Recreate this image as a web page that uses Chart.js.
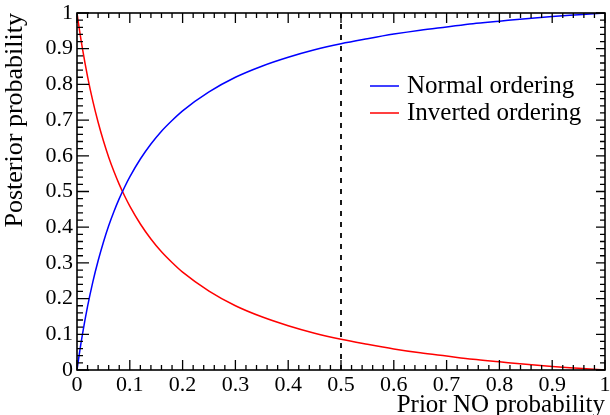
<!DOCTYPE html>
<html lang="en">
<head>
  <meta charset="UTF-8">
  <title>Posterior probability</title>
  <style>
    html, body { margin: 0; padding: 0; background: #fff; }
  </style>
</head>
<body>
  <canvas id="posteriorChart" width="610" height="415"></canvas>
  <script src="https://cdn.jsdelivr.net/npm/chart.js"></script>
  <script>
    // values
    const priorNO = [0, 0.005, 0.01, 0.02, 0.03, 0.04, 0.05, 0.06, 0.07, 0.08, 0.09, 0.1,
      0.12, 0.14, 0.16, 0.18, 0.2, 0.25, 0.3, 0.35, 0.4, 0.45, 0.5, 0.55, 0.6, 0.65,
      0.7, 0.75, 0.8, 0.85, 0.9, 0.95, 1];
    const normalOrdering = [0, 0.051, 0.097, 0.178, 0.247, 0.306, 0.358, 0.404, 0.444, 0.480,
      0.512, 0.541, 0.591, 0.633, 0.669, 0.699, 0.726, 0.779, 0.820, 0.851, 0.876, 0.897,
      0.914, 0.928, 0.941, 0.952, 0.961, 0.970, 0.977, 0.984, 0.990, 0.995, 1];
    const invertedOrdering = [1, 0.949, 0.903, 0.822, 0.753, 0.694, 0.642, 0.596, 0.556, 0.520,
      0.488, 0.459, 0.409, 0.367, 0.331, 0.301, 0.274, 0.221, 0.180, 0.149, 0.124, 0.103,
      0.086, 0.072, 0.059, 0.048, 0.039, 0.030, 0.023, 0.016, 0.010, 0.005, 0];
    const markerX = [0.5, 0.5];
    const markerY = [0, 1];
    const tickLabels = ['0', '0.1', '0.2', '0.3', '0.4', '0.5', '0.6', '0.7', '0.8', '0.9', '1'];

    const serif = '"Liberation Serif", "DejaVu Serif", serif';

    const toPoints = (xs, ys) => xs.map((x, i) => ({ x: x, y: ys[i] }));

    // ROOT style: inward ticks on all four sides plus frame
    const frameTicks = {
      id: 'frameTicks',
      afterDatasetsDraw(chart) {
        const ctx = chart.ctx;
        const a = chart.chartArea;
        const xs = chart.scales.x;
        const ys = chart.scales.y;
        ctx.save();
        ctx.strokeStyle = '#000';
        ctx.lineWidth = 1.3;
        ctx.beginPath();
        for (let i = 0; i <= 50; i++) {
          const v = i / 50;
          const major = i % 5 === 0;
          const px = xs.getPixelForValue(v);
          const py = ys.getPixelForValue(v);
          const lx = major ? 10 : 5;
          const ly = major ? 12 : 6;
          ctx.moveTo(px, a.bottom); ctx.lineTo(px, a.bottom - lx);
          ctx.moveTo(px, a.top); ctx.lineTo(px, a.top + lx);
          ctx.moveTo(a.left, py); ctx.lineTo(a.left + ly, py);
          ctx.moveTo(a.right, py); ctx.lineTo(a.right - (major ? 9 : 5), py);
        }
        ctx.stroke();
        ctx.lineWidth = 1.6;
        ctx.strokeRect(a.left, a.top, a.right - a.left, a.bottom - a.top);
        ctx.restore();
      }
    };

    // legend drawn inside the frame, ROOT-like
    const boxLegend = {
      id: 'boxLegend',
      afterDatasetsDraw(chart) {
        const ctx = chart.ctx;
        const sets = chart.data.datasets.filter(d => d.label);
        ctx.save();
        ctx.font = '25px ' + serif;
        ctx.textBaseline = 'middle';
        sets.forEach((d, i) => {
          const y = 86 + i * 27;
          ctx.strokeStyle = d.borderColor;
          ctx.lineWidth = 1.5;
          ctx.beginPath();
          ctx.moveTo(370, y);
          ctx.lineTo(399, y);
          ctx.stroke();
          ctx.fillStyle = '#000';
          ctx.fillText(d.label, 407, y);
        });
        ctx.restore();
      }
    };

    new Chart(document.getElementById('posteriorChart'), {
      type: 'line',
      data: {
        datasets: [
          {
            label: 'Normal ordering',
            data: toPoints(priorNO, normalOrdering),
            borderColor: '#0000ff',
            borderWidth: 1.5,
            pointRadius: 0,
            cubicInterpolationMode: 'monotone'
          },
          {
            label: 'Inverted ordering',
            data: toPoints(priorNO, invertedOrdering),
            borderColor: '#ff0000',
            borderWidth: 1.5,
            pointRadius: 0,
            cubicInterpolationMode: 'monotone'
          },
          {
            label: '',
            data: toPoints(markerX, markerY),
            borderColor: '#000',
            borderWidth: 1.8,
            borderDash: [5, 6],
            pointRadius: 0
          }
        ]
      },
      options: {
        responsive: false,
        animation: false,
        layout: { padding: { top: 13, right: 5, left: 0, bottom: 0 } },
        plugins: { legend: { display: false }, tooltip: { enabled: false } },
        scales: {
          x: {
            type: 'linear',
            min: 0,
            max: 1,
            grid: { display: false, drawTicks: false },
            border: { display: false },
            ticks: {
              stepSize: 0.1,
              autoSkip: false,
              padding: 2,
              maxRotation: 0,
              color: '#000',
              font: { family: serif, size: 22 },
              callback: (v) => tickLabels[Math.round(v * 10)]
            },
            title: {
              display: true,
              text: 'Prior NO probability',
              align: 'end',
              color: '#000',
              font: { family: serif, size: 25 },
              padding: { top: 0, bottom: -5 }
            },
            afterFit(s) { s.height = 45; s.paddingLeft = 0; s.paddingRight = 0; }
          },
          y: {
            type: 'linear',
            min: 0,
            max: 1,
            grid: { display: false, drawTicks: false },
            border: { display: false },
            ticks: {
              stepSize: 0.1,
              autoSkip: false,
              padding: 4,
              color: '#000',
              font: { family: serif, size: 22 },
              callback: (v) => tickLabels[Math.round(v * 10)]
            },
            title: {
              display: true,
              text: 'Posterior probability',
              align: 'end',
              color: '#000',
              font: { family: serif, size: 26 },
              padding: { top: 0, bottom: 2 }
            },
            afterFit(s) { s.width = 77; s.paddingTop = 0; s.paddingBottom = 0; }
          }
        }
      },
      plugins: [frameTicks, boxLegend]
    });
  </script>
</body>
</html>
